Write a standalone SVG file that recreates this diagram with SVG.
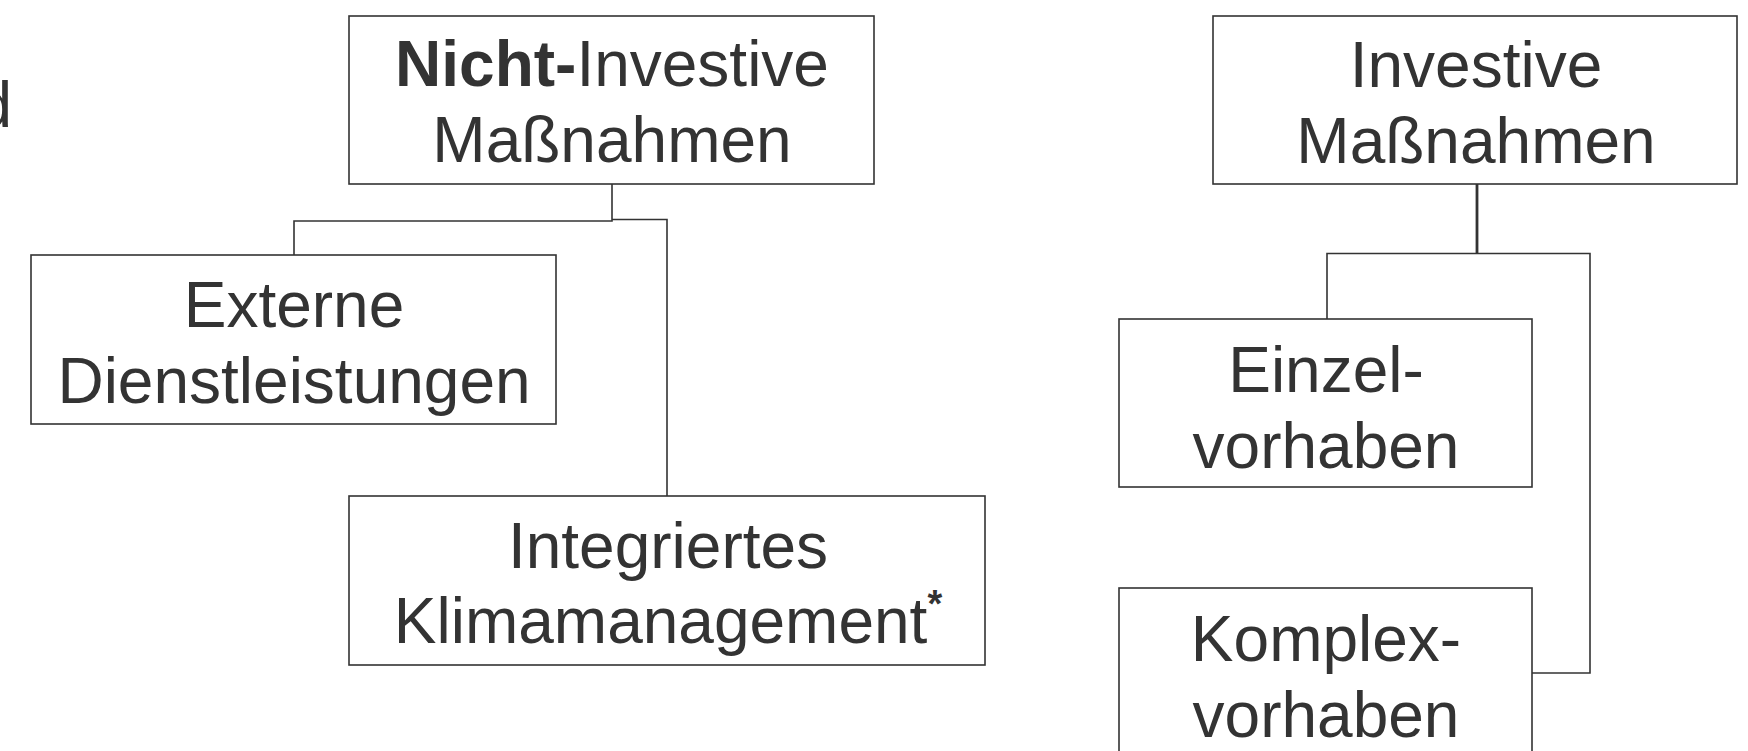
<svg xmlns="http://www.w3.org/2000/svg" width="1748" height="751" viewBox="0 0 1748 751">
<style>
.box{fill:#fff;stroke:#333;stroke-width:1.6}
.t{font-family:"Liberation Sans",Arial,sans-serif;font-size:64px;fill:#333;text-anchor:middle}
.b{font-weight:bold}
.c{fill:none;stroke:#333;stroke-width:1.6}
.ct{fill:none;stroke:#333;stroke-width:2.8}
</style>
<rect width="1748" height="751" fill="#fff"/>
<text class="t" x="12" y="127" style="text-anchor:end">d</text>
<g id="connectors">
<polyline class="c" points="612,184 612,221 294,221 294,255"/>
<polyline class="c" points="612,219.5 667,219.5 667,496"/>
<line class="ct" x1="1477" y1="184" x2="1477" y2="254"/>
<polyline class="c" points="1327,319 1327,253.5 1590,253.5 1590,673 1532,673"/>
</g>
<g id="node-nicht">
<rect class="box" x="349" y="16" width="525" height="168"/>
<text class="t" x="612" y="86"><tspan class="b">Nicht-</tspan>Investive</text>
<text class="t" x="612" y="162">Maßnahmen</text>
</g>
<g id="node-externe">
<rect class="box" x="31" y="255" width="525" height="169"/>
<text class="t" x="294" y="327">Externe</text>
<text class="t" x="294" y="403">Dienstleistungen</text>
</g>
<g id="node-klima">
<rect class="box" x="349" y="496" width="636" height="169"/>
<text class="t" x="668" y="568">Integriertes</text>
<text class="t" x="668" y="643">Klimamanagement<tspan font-size="38" font-weight="bold" dy="-26">*</tspan></text>
</g>
<g id="node-investive">
<rect class="box" x="1213" y="16" width="524" height="168"/>
<text class="t" x="1476" y="87">Investive</text>
<text class="t" x="1476" y="163">Maßnahmen</text>
</g>
<g id="node-einzel">
<rect class="box" x="1119" y="319" width="413" height="168"/>
<text class="t" x="1326" y="392">Einzel-</text>
<text class="t" x="1326" y="468">vorhaben</text>
</g>
<g id="node-komplex">
<rect class="box" x="1119" y="588" width="413" height="200"/>
<text class="t" x="1326" y="661">Komplex-</text>
<text class="t" x="1326" y="737">vorhaben</text>
</g>
</svg>
